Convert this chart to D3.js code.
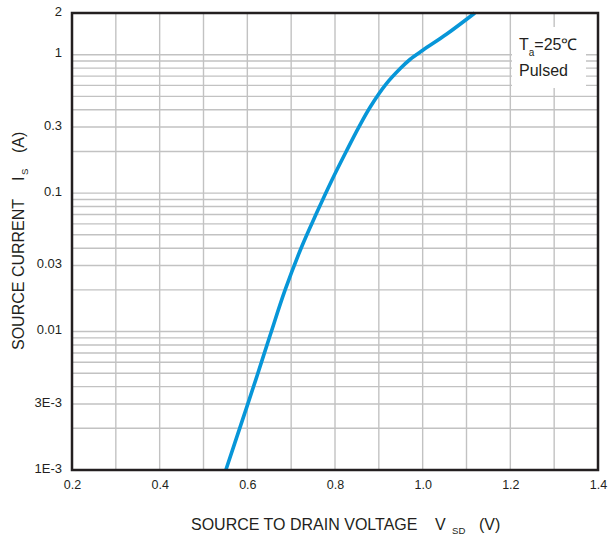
<!DOCTYPE html>
<html>
<head>
<meta charset="utf-8">
<script src="https://cdn.jsdelivr.net/npm/d3@7"></script>
<style>
  html, body { margin: 0; padding: 0; background: #fff; }
  svg { display: block; font-family: "Liberation Sans", Arial, sans-serif; }
</style>
</head>
<body>
<svg id="chart" width="608" height="540"></svg>
<script>
// ---- data ----
const vsd = [0.551, 0.585, 0.619, 0.652, 0.686, 0.724, 0.758, 0.792, 0.827, 0.855, 0.880, 0.916, 0.950, 0.971, 1.001, 1.055, 1.119];
const isCurrent = [0.001, 0.00211, 0.00446, 0.0094, 0.0199, 0.041, 0.0718, 0.1225, 0.204, 0.302, 0.417, 0.61, 0.80, 0.923, 1.08, 1.41, 2.0];
const xTicks = [0.2, 0.4, 0.6, 0.8, 1.0, 1.2, 1.4];
const xTickLabels = ["0.2", "0.4", "0.6", "0.8", "1.0", "1.2", "1.4"];
const xGrid = [0.3, 0.4, 0.5, 0.6, 0.7, 0.8, 0.9, 1.0, 1.1, 1.2, 1.3];
const yTicks = [0.001, 0.003, 0.01, 0.03, 0.1, 0.3, 1, 2];
const yTickLabels = ["1E-3", "3E-3", "0.01", "0.03", "0.1", "0.3", "1", "2"];

// ---- layout ----
const L = 72, R = 598, T = 13, B = 470;
const svg = d3.select("#chart");
const x = d3.scaleLinear().domain([0.2, 1.4]).range([L, R]);
const y = d3.scaleLog().domain([0.001, 2]).range([B, T]);

// horizontal grid: 1..9 per decade, up to 1
const yGrid = [];
[0.001, 0.01, 0.1].forEach(d => { for (let k = 1; k <= 9; k++) yGrid.push(+(d * k).toPrecision(3)); });
yGrid.push(1);

const grid = svg.append("g").attr("stroke", "#c2c2c2").attr("stroke-width", 1.4);
grid.selectAll("line.h").data(yGrid.filter(v => v > 0.001)).enter().append("line")
  .attr("x1", L).attr("x2", R).attr("y1", d => y(d)).attr("y2", d => y(d));
grid.selectAll("line.v").data(xGrid).enter().append("line")
  .attr("x1", d => x(d)).attr("x2", d => x(d)).attr("y1", T).attr("y2", B);

// legend box (covers grid)
const lg = svg.append("g");
lg.append("rect").attr("x", 512).attr("y", 27).attr("width", 74).attr("height", 61).attr("fill", "#fff");
const t1 = lg.append("text").attr("x", 519).attr("y", 50).attr("font-size", 16).attr("fill", "#231f20");
t1.append("tspan").text("T");
t1.append("tspan").attr("dy", 6).attr("font-size", 10).text("a");
t1.append("tspan").attr("dy", -6).text("=25\u2103");
lg.append("text").attr("x", 519).attr("y", 76).attr("font-size", 16).attr("fill", "#231f20").text("Pulsed");

// curve
const line = d3.line().x((d, i) => x(vsd[i])).y((d, i) => y(isCurrent[i])).curve(d3.curveCatmullRom.alpha(0.5));
svg.append("path").datum(vsd).attr("d", line)
  .attr("fill", "none").attr("stroke", "#0796d8").attr("stroke-width", 3.6).attr("stroke-linecap", "butt");

// frame
svg.append("rect").attr("x", L).attr("y", T).attr("width", R - L).attr("height", B - T)
  .attr("fill", "none").attr("stroke", "#231f20").attr("stroke-width", 2.5);

// axes (tick labels via d3 axes)
const xAxis = d3.axisBottom(x).tickValues(xTicks).tickSize(0).tickPadding(0)
  .tickFormat((d, i) => xTickLabels[i]);
const gx = svg.append("g").attr("transform", `translate(0,${B + 10})`).call(xAxis);
gx.select(".domain").remove();
gx.selectAll("text").attr("font-size", 12.5).attr("fill", "#231f20")
  .attr("font-family", "Liberation Sans, Arial, sans-serif").attr("dy", "0.71em");

const yAxis = d3.axisLeft(y).tickValues(yTicks).tickSize(0).tickPadding(0)
  .tickFormat((d, i) => yTickLabels[i]);
const gy = svg.append("g").attr("transform", `translate(${L - 10},-2)`).call(yAxis);
gy.select(".domain").remove();
gy.selectAll("text").attr("font-size", 13).attr("fill", "#231f20")
  .attr("font-family", "Liberation Sans, Arial, sans-serif");

// x title
const xt = svg.append("text").attr("x", 191).attr("y", 530).attr("font-size", 16).attr("fill", "#231f20");
xt.append("tspan").text("SOURCE TO DRAIN VOLTAGE");
xt.append("tspan").attr("x", 435).text("V");
xt.append("tspan").attr("x", 452).attr("dy", 4).attr("font-size", 9.6).text("SD");
xt.append("tspan").attr("x", 479).attr("dy", -4).text("(V)");

// y title (rotated)
const yt = svg.append("text").attr("transform", "translate(24,0) rotate(-90)")
  .attr("x", -350).attr("y", 0).attr("font-size", 16).attr("fill", "#231f20");
yt.append("tspan").text("SOURCE CURRENT");
yt.append("tspan").attr("x", -181).text("I");
yt.append("tspan").attr("x", -175).attr("dy", 4).attr("font-size", 9.6).text("S");
yt.append("tspan").attr("x", -153).attr("dy", -4).text("(A)");
</script>
</body>
</html>
